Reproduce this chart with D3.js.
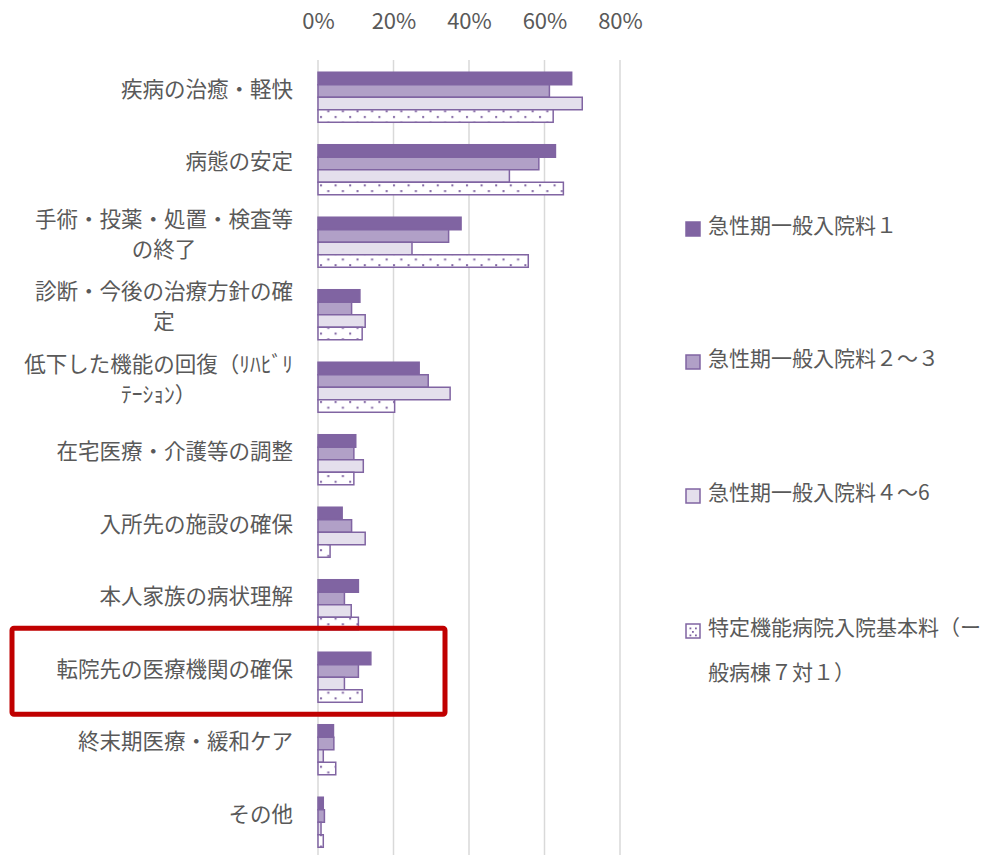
<!DOCTYPE html>
<html lang="ja">
<head>
<meta charset="UTF-8">
<title>退院理由</title>
<script src="https://d3js.org/d3.v7.min.js"></script>
<style>
  body { margin: 0; background: #fff; }
  text { font-family: "Noto Sans CJK JP", "Noto Sans", sans-serif; fill: #595959; }
</style>
</head>
<body>
<div id="chart"></div>
<script>
// categories (line breaks as in the original axis labels)
const categories = [
  "疾病の治癒・軽快",
  "病態の安定",
  "手術・投薬・処置・検査等\nの終了",
  "診断・今後の治療方針の確\n定",
  "低下した機能の回復（ﾘﾊﾋﾞﾘ\nﾃｰｼｮﾝ）",
  "在宅医療・介護等の調整",
  "入所先の施設の確保",
  "本人家族の病状理解",
  "転院先の医療機関の確保",
  "終末期医療・緩和ケア",
  "その他"
];
const seriesNames = [
  "急性期一般入院料１",
  "急性期一般入院料２～３",
  "急性期一般入院料４～6",
  "特定機能病院入院基本料（ー\n般病棟７対１）"
];
// values in %
const acute1 = [67.2, 62.9, 37.9, 11.1, 26.8, 10.0, 6.4, 10.7, 14.0, 4.1, 1.4];
const acute23 = [61.3, 58.5, 34.6, 8.9, 29.2, 9.5, 8.9, 7.0, 10.7, 4.2, 1.7];
const acute46 = [70.0, 50.7, 24.9, 12.5, 35.0, 12.0, 12.5, 8.8, 7.0, 1.4, 0.8];
const special = [62.3, 65.0, 55.7, 11.7, 20.3, 9.5, 3.2, 10.7, 11.7, 4.7, 1.4];
const tickValues = [0, 20, 40, 60, 80];
const highlighted = "転院先の医療機関の確保";

const W = 1006, H = 855;
const purple = "#8064A2";
const fills = [purple, "#B1A0C7", "#E4DFEC", "url(#dots)"];
const series = [acute1, acute23, acute46, special];

const svg = d3.select("#chart").append("svg")
  .attr("width", W).attr("height", H);

// dotted pattern for the last series
const pat = svg.append("defs").append("pattern")
  .attr("id", "dots")
  .attr("patternUnits", "userSpaceOnUse")
  .attr("x", 318).attr("y", 0)
  .attr("width", 14.6).attr("height", 11.4);
pat.append("rect").attr("width", 14.6).attr("height", 11.4).attr("fill", "#fff");
pat.append("rect").attr("x", 2).attr("y", 2).attr("width", 2).attr("height", 2).attr("fill", purple);
pat.append("rect").attr("x", 9.3).attr("y", 7.7).attr("width", 2).attr("height", 2).attr("fill", purple);

const x = d3.scaleLinear().domain([0, 80]).range([318, 620]);
const y = d3.scaleBand().domain(categories)
  .range([61, 61 + 11 * 72.5])
  .paddingInner(0.31).paddingOuter(0.155);
const ys = d3.scaleBand().domain(d3.range(4)).range([0, y.bandwidth()]);

// gridlines
svg.append("g").selectAll("line").data(tickValues).join("line")
  .attr("x1", d => x(d)).attr("x2", d => x(d))
  .attr("y1", 60).attr("y2", H)
  .attr("stroke", "#D9D9D9").attr("stroke-width", 1.5);

// top tick labels
const axis = svg.append("g").attr("transform", "translate(0,21)")
  .call(d3.axisTop(x).tickValues(tickValues).tickFormat(d => d + "%").tickSize(0).tickPadding(0));
axis.select(".domain").remove();
axis.selectAll("text").attr("fill", "#595959").attr("font-size", 22)
  .attr("dy", "0.35em").style("font-family", "'Noto Sans CJK JP'");

// bars
series.forEach((vals, si) => {
  svg.append("g").selectAll("rect").data(categories).join("rect")
    .attr("x", x(0))
    .attr("y", c => y(c) + ys(si))
    .attr("width", (c, i) => x(vals[i]) - x(0))
    .attr("height", ys.bandwidth())
    .attr("fill", fills[si])
    .attr("stroke", purple)
    .attr("stroke-width", 1.5);
});

// category labels (centered lines, block right-aligned)
const lab = svg.append("g");
categories.forEach(c => {
  const lines = c.split("\n");
  const lh = 30;
  const cy = y(c) + y.bandwidth() / 2 - 8 - (lines.length - 1) * lh / 2;
  const ts = lines.map((l, i) => lab.append("text")
    .attr("font-size", 21.5).attr("text-anchor", "middle")
    .attr("y", cy + i * lh).attr("dy", "0.35em").text(l));
  const maxW = d3.max(ts, t => t.node().getComputedTextLength());
  ts.forEach(t => t.attr("x", 293 - maxW / 2));
});

// legend
const legY = [226, 359, 493, 628];
seriesNames.forEach((n, i) => {
  const g = svg.append("g");
  g.append("rect").attr("x", 686).attr("y", legY[i] - 4).attr("width", 14).attr("height", 14)
    .attr("fill", i === 3 ? "#fff" : fills[i]).attr("stroke", purple).attr("stroke-width", 1.5);
  if (i === 3) {
    [[689.5, 627.5], [695, 627.5], [692, 631], [689.5, 634.5], [695, 634.5]].forEach(p => {
      g.append("rect").attr("x", p[0]).attr("y", p[1]).attr("width", 1.8).attr("height", 1.8).attr("fill", purple);
    });
  }
  n.split("\n").forEach((l, j) => {
    g.append("text").attr("x", 708).attr("y", legY[i] + j * 45).attr("dy", "0.35em")
      .attr("font-size", 21).text(l);
  });
});

// red highlight box
const hy = y(highlighted);
svg.append("rect")
  .attr("x", 12).attr("y", hy - 24)
  .attr("width", 433).attr("height", 86)
  .attr("rx", 2)
  .attr("fill", "none").attr("stroke", "#C00000").attr("stroke-width", 5);
</script>
</body>
</html>
